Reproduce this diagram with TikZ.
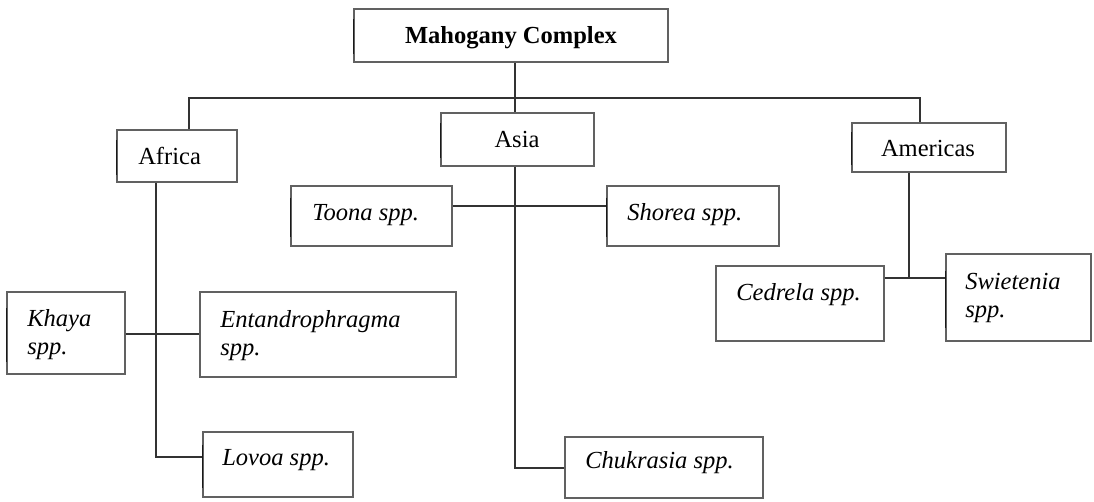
\documentclass[tikz,border=0pt]{standalone}
\usepackage{fontspec}
\setmainfont{Liberation Serif}
\usetikzlibrary{fit,calc}
\begin{document}
\begin{tikzpicture}[x=0.75pt,y=-0.75pt,
  box/.style={draw=black!62, line width=0.8pt, inner sep=0pt, rectangle},
  lbl/.style={inner sep=0pt, font=\fontsize{18.4}{21.5}\selectfont},
  conn/.style={draw=black!80, line width=0.8pt},
  edgemark/.style={draw=black!90, line width=1.2pt}]
\useasboundingbox (0,0) rectangle (1094,501);
% boxes
\node[box, fit={(354,9) (668,62)}] (mahog) {};
\node[box, fit={(117,130) (237,182)}] (africa) {};
\node[box, fit={(441,113) (594,166)}] (asia) {};
\node[box, fit={(852,123) (1006,172)}] (americas) {};
\node[box, fit={(291,186) (452,246)}] (toona) {};
\node[box, fit={(607,186) (779,246)}] (shorea) {};
\node[box, fit={(7,292) (125,374)}] (khaya) {};
\node[box, fit={(200,292) (456,377)}] (entandro) {};
\node[box, fit={(203,432) (353,497)}] (lovoa) {};
\node[box, fit={(565,437) (763,498)}] (chuk) {};
\node[box, fit={(716,266) (884,341)}] (cedrela) {};
\node[box, fit={(946,254) (1091,341)}] (swiet) {};
% darker left-edge segments
\foreach \n in {mahog,africa,asia,americas,toona,shorea,khaya,lovoa,swiet}
  \draw[edgemark] ($(\n.north west)!0.2!(\n.south west)$) -- ($(\n.north west)!0.85!(\n.south west)$);
% labels
\node[lbl, anchor=base, font=\fontsize{18.4}{21.5}\selectfont\bfseries] (mahogt) at (511,43) {Mahogany Complex};
\node[lbl, anchor=base west] (africat) at (138,164) {Africa};
\node[lbl, anchor=base] (asiat) at (517,147) {Asia};
\node[lbl, anchor=base] (americast) at (928,156) {Americas};
\node[lbl, anchor=base west] (toonat) at (312,220) {\itshape Toona spp.};
\node[lbl, anchor=base west] (shoreat) at (627,220) {\itshape Shorea spp.};
\node[lbl, anchor=base west] (khayat) at (27,326) {\vtop{\hbox{\itshape Khaya}\hbox{\itshape spp.}}};
\node[lbl, anchor=base west] (entandrot) at (220,327) {\vtop{\hbox{\itshape Entandrophragma}\hbox{\itshape spp.}}};
\node[lbl, anchor=base west] (lovoat) at (222,465) {\itshape Lovoa spp.};
\node[lbl, anchor=base west] (chukt) at (585,468) {\itshape Chukrasia spp.};
\node[lbl, anchor=base west] (cedrelat) at (736,300) {\itshape Cedrela spp.};
\node[lbl, anchor=base west] (swiett) at (965,289) {\vtop{\hbox{\itshape Swietenia}\hbox{\itshape spp.}}};
% junction coordinates
\coordinate (busL) at (189,98);
\coordinate (busR) at (920,98);
\coordinate (jasia) at (515,98);
\coordinate (jafr) at (156,457);
\coordinate (jkh) at (156,334);
\coordinate (jtoona) at (515,206);
\coordinate (jchuk) at (515,468);
\coordinate (jam) at (909,278);
% connectors
\draw[conn] (mahog.south -| jasia) -- (asia.north -| jasia);
\draw[conn] (africa.north -| busL) -- (busL) -- (busR) -- (americas.north -| busR);
\draw[conn] (africa.south -| jafr) -- (jafr) -- (lovoa.west |- jafr);
\draw[conn] (khaya.east |- jkh) -- (entandro.west |- jkh);
\draw[conn] (asia.south -| jchuk) -- (jchuk) -- (chuk.west |- jchuk);
\draw[conn] (toona.east |- jtoona) -- (shorea.west |- jtoona);
\draw[conn] (americas.south -| jam) -- (jam);
\draw[conn] (cedrela.east |- jam) -- (swiet.west |- jam);
\end{tikzpicture}
\end{document}
